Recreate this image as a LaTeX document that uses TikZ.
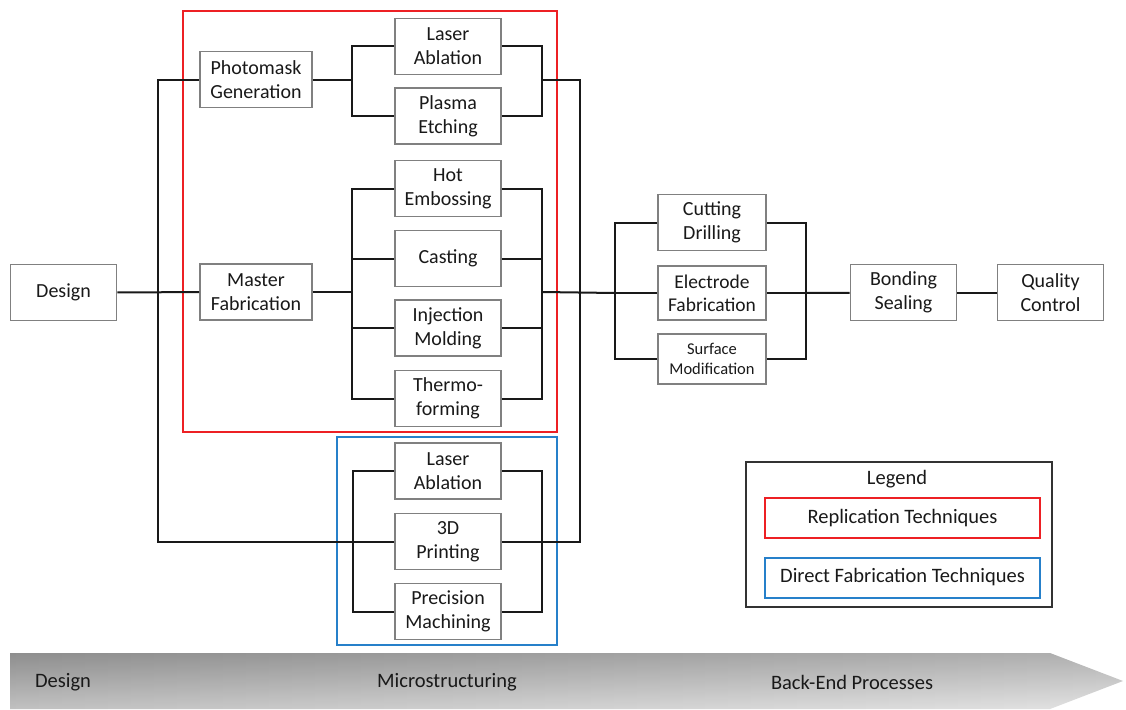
\documentclass[tikz,border=0pt]{standalone}
\usepackage{fontspec}
\setmainfont{Carlito}
\usepackage{tikz}
\usetikzlibrary{positioning}

\definecolor{repRed}{RGB}{237,32,36}
\definecolor{dirBlue}{RGB}{38,128,202}

\tikzset{
	proc/.style={draw=black!50, line width=1.6pt, fill=white, minimum width=106pt, minimum height=56pt,
		inner sep=0pt, align=center, text=black!90, font=\fontsize{20}{24}\selectfont},
	link/.style={line width=2pt, draw=black!90},
	frame/.style={line width=2.2pt},
	barlabel/.style={text=black!90, font=\fontsize{20.5}{24}\selectfont},
}

\begin{document}
\begin{tikzpicture}[x=1pt,y=-1pt]
	\useasboundingbox (0,0) rectangle (1126,709);

	% frames
	\draw[frame, repRed] (183,11) rectangle (557,432);
	\draw[frame, dirBlue] (337,437) rectangle (557,645);

	% steps
	\node[proc] (design) at (63.5,292.5) {Design};
	\node[proc, minimum width=112pt] (photo) at (256,79.5) {Photomask\\Generation};
	\node[proc, minimum width=112pt] (master) at (256,292) {Master\\Fabrication};

	\node[proc] (laserA) at (448,46.5) {Laser\\Ablation};
	\node[proc] (plasma) at (448,116) {Plasma\\Etching};
	\node[proc] (hot) at (448,188.5) {Hot\\Embossing};
	\node[proc] (cast) at (448,258.5) {Casting};
	\node[proc] (inject) at (448,328) {Injection\\Molding};
	\node[proc] (thermo) at (448,398.5) {Thermo-\\forming};

	\node[proc] (laserB) at (448,471) {Laser\\Ablation};
	\node[proc] (print) at (448,541.5) {3D\\Printing};
	\node[proc] (machine) at (448,611.5) {Precision\\Machining};

	\node[proc, minimum width=108pt] (cut) at (712,222.5) {Cutting\\Drilling};
	\node[proc, minimum width=108pt, minimum height=54pt, font=\fontsize{19.5}{23}\selectfont] (electrode) at (712,293) {Electrode\\Fabrication};
	\node[proc, minimum width=108pt, minimum height=50pt, font=\fontsize{16.5}{20}\selectfont] (surface) at (712,359) {Surface\\Modification};

	\node[proc] (bond) at (903.5,292.5) {Bonding\\Sealing};
	\node[proc] (quality) at (1050.5,292.5) {Quality\\Control};

	% branch points
	\coordinate (sL) at (158,292);
	\coordinate (pL) at (352,79.5);
	\coordinate (pR) at (542,79.5);
	\coordinate (mL) at (352,292);
	\coordinate (mR) at (542,292);
	\coordinate (dL) at (353,541.5);
	\coordinate (dR) at (542,541.5);
	\coordinate (oR) at (580,292);
	\coordinate (bL) at (615,293);
	\coordinate (bR) at (806,293);

	% connectors
	\draw[link] (design) -- (master);
	\draw[link] (photo.west) -| (sL);
	\draw[link] (print.west) -| (sL);

	\draw[link] (photo) -- (pL);
	\draw[link] (laserA.west) -| (pL);
	\draw[link] (plasma.west) -| (pL);
	\draw[link] (laserA.east) -| (pR);
	\draw[link] (plasma.east) -| (pR);
	\draw[link] (pR) -| (oR);

	\draw[link] (master) -- (mL);
	\foreach \n in {hot,cast,inject,thermo}{
		\draw[link] (\n.west) -| (mL);
		\draw[link] (\n.east) -| (mR);
	}
	\draw[link] (mR) -- (bL);

	\draw[link] (laserB.west) -| (dL);
	\draw[link] (machine.west) -| (dL);
	\draw[link] (laserB.east) -| (dR);
	\draw[link] (machine.east) -| (dR);
	\draw[link] (print.east) -| (oR);

	\foreach \n in {cut,electrode,surface}{
		\draw[link] (\n.west) -| (bL);
		\draw[link] (\n.east) -| (bR);
	}
	\draw[link] (bR) -- (bond);
	\draw[link] (bond) -- (quality);

	% legend
	\node[draw=black!80, line width=2.2pt, minimum width=306pt, minimum height=145pt] (legend) at (899,534.5) {};
	\node[barlabel] (legendTitle) at (897,479) {Legend};
	\node[draw=repRed, line width=2pt, minimum width=275pt, minimum height=40pt, barlabel] (rep) at (902.5,518) {Replication Techniques};
	\node[draw=dirBlue, line width=2pt, minimum width=275pt, minimum height=40pt, barlabel] (dir) at (902.5,577.5) {Direct Fabrication Techniques};

	% process bar
	\shade[left color=black!25, right color=black!6]
		(10,653) -- (1050,653) -- (1123,681) -- (1050,709) -- (10,709) -- cycle;
	\shade[top color=black!88, bottom color=black!22, opacity=0.3]
		(10,653) -- (1050,653) -- (1123,681) -- (1050,709) -- (10,709) -- cycle;
	\node[barlabel] (barDesign) at (63,682) {Design};
	\node[barlabel] (barMicro) at (447,682) {Microstructuring};
	\node[barlabel] (barBack) at (852,682) {Back-End Processes};
\end{tikzpicture}
\end{document}
